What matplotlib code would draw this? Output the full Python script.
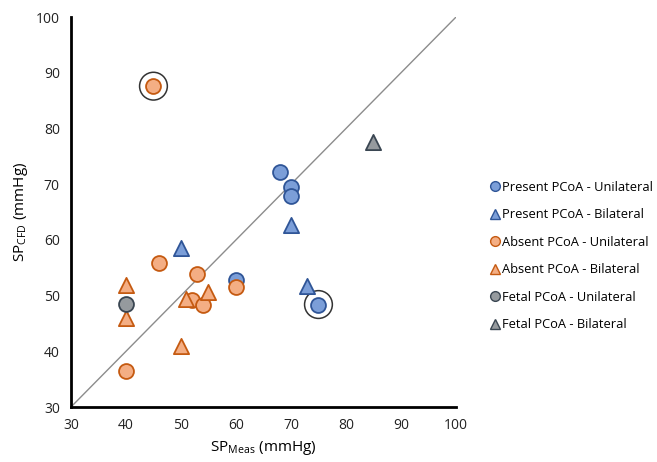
import matplotlib
matplotlib.use("Agg")
import matplotlib.pyplot as plt
from matplotlib.lines import Line2D

plt.rcParams['font.family'] = ['Open Sans', 'DejaVu Sans']

# Data
present_uni_x = [68, 70, 70, 60, 75]
present_uni_y = [72.2, 69.5, 67.9, 52.8, 48.4]
present_bi_x = [50, 70, 73]
present_bi_y = [58.5, 62.7, 51.8]
absent_uni_x = [45, 46, 53, 60, 52, 54, 40]
absent_uni_y = [87.6, 55.8, 53.9, 51.5, 49.3, 48.4, 36.5]
absent_bi_x = [40, 40, 51, 55, 50]
absent_bi_y = [51.9, 45.9, 49.4, 50.6, 41.0]
fetal_uni_x = [40]
fetal_uni_y = [48.5]
fetal_bi_x = [85]
fetal_bi_y = [77.5]
ring_x = [45, 75]
ring_y = [87.6, 48.4]
ticks = [30, 40, 50, 60, 70, 80, 90, 100]

blue_f, blue_e = '#7B9ED8', '#2F5597'
orng_f, orng_e = '#F4AE84', '#C55A11'
gray_f, gray_e = '#959A9E', '#3A4652'

fig = plt.figure(figsize=(6.57, 4.62), dpi=100)
ax = fig.add_axes([0.108, 0.119, 0.586, 0.844])

ax.plot([30, 100], [30, 100], color='#8C8C8C', lw=1.0, zorder=1)

s_c = 115
s_t = 120
lw = 1.3
series = [
    (present_uni_x, present_uni_y, 'o', blue_f, blue_e, 'Present PCoA - Unilateral'),
    (present_bi_x, present_bi_y, '^', blue_f, blue_e, 'Present PCoA - Bilateral'),
    (absent_uni_x, absent_uni_y, 'o', orng_f, orng_e, 'Absent PCoA - Unilateral'),
    (absent_bi_x, absent_bi_y, '^', orng_f, orng_e, 'Absent PCoA - Bilateral'),
    (fetal_uni_x, fetal_uni_y, 'o', gray_f, gray_e, 'Fetal PCoA - Unilateral'),
    (fetal_bi_x, fetal_bi_y, '^', gray_f, gray_e, 'Fetal PCoA - Bilateral'),
]
handles = []
for xs, ys, m, fc, ec, lab in series:
    ax.scatter(xs, ys, s=(s_c if m == 'o' else s_t), marker=m, facecolor=fc,
               edgecolor=ec, linewidth=lw, zorder=3)
    handles.append(Line2D([], [], marker=m, linestyle='none', markersize=7,
                          markerfacecolor=fc, markeredgecolor=ec,
                          markeredgewidth=1.0, label=lab))

ax.scatter(ring_x, ring_y, s=400, marker='o', facecolor='none',
           edgecolor='#333333', linewidth=1.1, zorder=2)

ax.set_xlim(30, 100)
ax.set_ylim(30, 100)
ax.set_xticks(ticks)
ax.set_yticks(ticks)
ax.tick_params(length=0, labelsize=10, pad=8, colors='#222222')
for side in ['top', 'right']:
    ax.spines[side].set_visible(False)
for side in ['left', 'bottom']:
    ax.spines[side].set_linewidth(2.0)
    ax.spines[side].set_color('black')

ax.set_xlabel('SP$_{\\mathregular{Meas}}$ (mmHg)', fontsize=11, labelpad=4)
ax.set_ylabel('SP$_{\\mathregular{CFD}}$ (mmHg)', fontsize=11, labelpad=4)

fig.legend(handles=handles, loc='center left', bbox_to_anchor=(0.735, 0.446),
           frameon=False, fontsize=9.3, handletextpad=0.05,
           labelspacing=1.12, handlelength=1.0, borderaxespad=0)

fig.savefig('out.png', dpi=100)
